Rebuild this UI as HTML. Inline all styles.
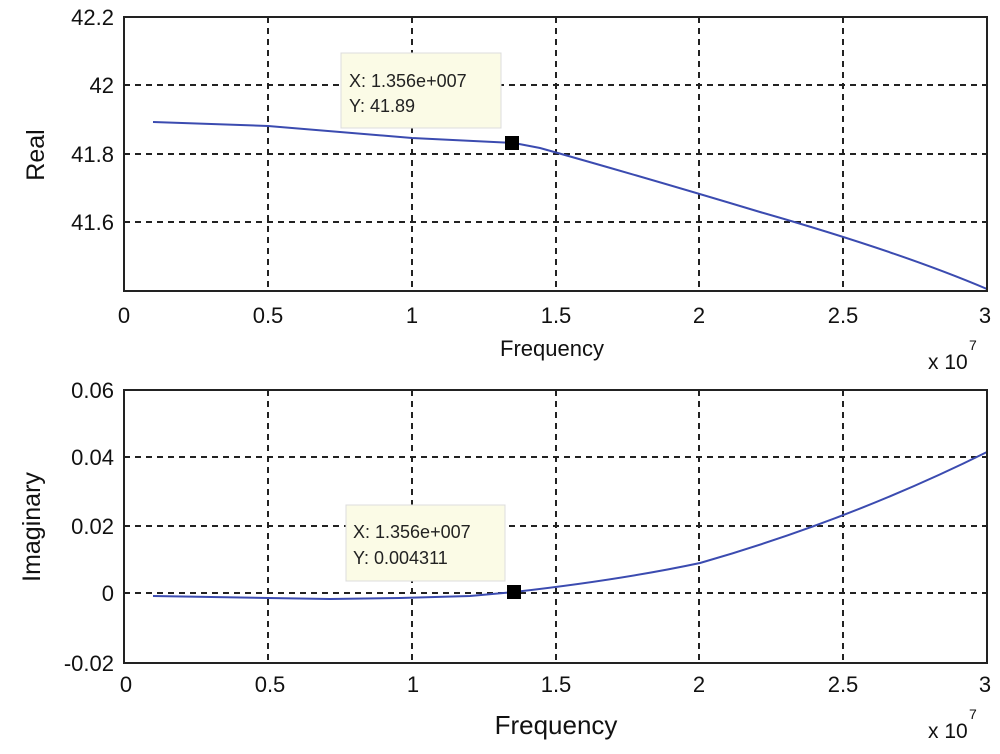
<!DOCTYPE html>
<html><head><meta charset="utf-8"><style>
html,body{margin:0;padding:0;background:#fff;}
svg{display:block;font-family:"Liberation Sans",Arial,sans-serif;}
</style></head><body>
<svg width="1000" height="754" viewBox="0 0 1000 754" xmlns="http://www.w3.org/2000/svg">
<rect width="1000" height="754" fill="#fff"/>
<g stroke="#222" stroke-width="2" stroke-dasharray="6,5">
  <line x1="268" y1="17" x2="268" y2="291"/><line x1="412" y1="17" x2="412" y2="291"/>
  <line x1="556" y1="17" x2="556" y2="291"/><line x1="699" y1="17" x2="699" y2="291"/>
  <line x1="843" y1="17" x2="843" y2="291"/>
  <line x1="124" y1="85" x2="987" y2="85"/><line x1="124" y1="154" x2="987" y2="154"/>
  <line x1="124" y1="222" x2="987" y2="222"/>
</g>
<path fill="none" stroke="#3b4bb0" stroke-width="2" d="M153,122 L268,126 L412,138 L514,143 L540,148 Q640,176 760,212 Q900,252 987,289"/>
<rect x="124" y="17" width="863" height="274" fill="none" stroke="#222" stroke-width="2"/>
<g font-size="22" fill="#111" text-anchor="end">
  <text x="114" y="25">42.2</text><text x="114" y="93">42</text>
  <text x="114" y="162">41.8</text><text x="114" y="230">41.6</text>
</g>
<g font-size="22" fill="#111" text-anchor="middle">
  <text x="124" y="323">0</text><text x="268" y="323">0.5</text><text x="412" y="323">1</text>
  <text x="556" y="323">1.5</text><text x="699" y="323">2</text><text x="843" y="323">2.5</text><text x="985" y="323">3</text>
  <text x="552" y="356">Frequency</text>
</g>
<text x="928" y="369" font-size="21" fill="#111">x 10</text><text x="969" y="350" font-size="14" fill="#111">7</text>
<text transform="translate(44,155) rotate(-90)" font-size="25" fill="#111" text-anchor="middle">Real</text>
<rect x="341" y="53" width="160" height="75" fill="#fbfbe6" stroke="#ddd"/>
<text x="349" y="87" font-size="18" fill="#222">X: 1.356e+007</text>
<text x="349" y="112" font-size="18" fill="#222">Y: 41.89</text>
<rect x="505" y="136" width="14" height="14" fill="#000"/>
<g stroke="#222" stroke-width="2" stroke-dasharray="6,5">
  <line x1="268" y1="390" x2="268" y2="663"/><line x1="412" y1="390" x2="412" y2="663"/>
  <line x1="556" y1="390" x2="556" y2="663"/><line x1="699" y1="390" x2="699" y2="663"/>
  <line x1="843" y1="390" x2="843" y2="663"/>
  <line x1="124" y1="457" x2="987" y2="457"/><line x1="124" y1="526" x2="987" y2="526"/>
  <line x1="124" y1="593" x2="987" y2="593"/>
</g>
<path fill="none" stroke="#3b4bb0" stroke-width="2" d="M153,596 L268,598 L330,599 L400,598 L470,596 L514,592 Q620,580 700,563 Q850,520 987,452"/>
<rect x="124" y="390" width="863" height="273" fill="none" stroke="#222" stroke-width="2"/>
<g font-size="22" fill="#111" text-anchor="end">
  <text x="114" y="398">0.06</text><text x="114" y="465">0.04</text>
  <text x="114" y="534">0.02</text><text x="114" y="601">0</text><text x="114" y="671">-0.02</text>
</g>
<g font-size="22" fill="#111" text-anchor="middle">
  <text x="126" y="692">0</text><text x="270" y="692">0.5</text><text x="413" y="692">1</text>
  <text x="556" y="692">1.5</text><text x="699" y="692">2</text><text x="843" y="692">2.5</text><text x="985" y="692">3</text>
  <text x="556" y="734" font-size="26">Frequency</text>
</g>
<text x="928" y="738" font-size="21" fill="#111">x 10</text><text x="969" y="719" font-size="14" fill="#111">7</text>
<text transform="translate(40,527) rotate(-90)" font-size="25" fill="#111" text-anchor="middle">Imaginary</text>
<rect x="346" y="505" width="159" height="76" fill="#fbfbe6" stroke="#ddd"/>
<text x="353" y="538" font-size="18" fill="#222">X: 1.356e+007</text>
<text x="353" y="564" font-size="18" fill="#222">Y: 0.004311</text>
<rect x="507" y="585" width="14" height="14" fill="#000"/>
</svg>
</body></html>
